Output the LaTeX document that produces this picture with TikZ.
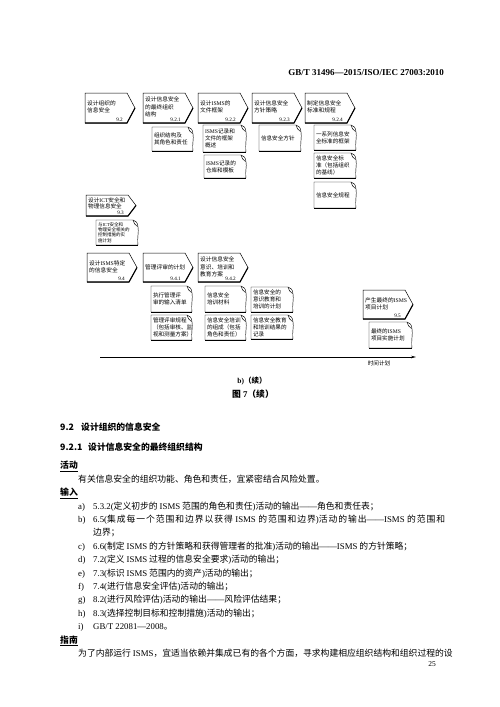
\documentclass[tikz,border=0pt]{standalone}
\usepackage{fontspec}
\setmainfont{Noto Sans CJK SC}
\newfontfamily\serifhdr{Liberation Serif}
\usetikzlibrary{arrows.meta}
\XeTeXlinebreaklocale "zh"
\XeTeXlinebreakskip = 0pt plus 2pt
\newcommand\lat[1]{{\serifhdr #1}}
\tikzset{
 boxline/.style={draw=black, line width=0.5pt, line join=miter},
 shadowline/.style={draw=black, line width=1.1pt},
 docline/.style={draw=black, line width=0.45pt},
 docshadow/.style={draw=black, line width=0.9pt},
 boxtext/.style={font=\fontsize{5.7}{7.4}\selectfont, align=left, inner sep=0pt, anchor=west},
 numtext/.style={font=\fontsize{5.2}{6}\selectfont\serifhdr, inner sep=0pt, anchor=base east},
 doctext/.style={font=\fontsize{5.6}{7}\selectfont, align=left, inner sep=0pt, anchor=west},
 tinydoc/.style={font=\fontsize{4.5}{5.2}\selectfont, align=left, inner sep=0pt, anchor=west},
 body/.style={font=\fontsize{8.8}{13.4}\selectfont, inner sep=0pt, anchor=base west},
 head/.style={font=\fontsize{8.8}{13.4}\selectfont\bfseries, inner sep=0pt, anchor=base west},
 capt/.style={font=\bfseries\fontsize{8.8}{10}\selectfont, inner sep=0pt, anchor=base},
}
% activity box outline: x, y, height
\newcommand\actshape[3]{%
 \draw[boxline] (#1,#2) -- ++(42,0) -- ++(8,{#3/2}) -- ++(-8,{#3/2}) -- ++(-42,0) -- cycle;
 \draw[shadowline] (#1,{#2+#3}) -- ++(42,0) -- ++(8,{-#3/2});
}
% activity box: name, x, y, height, text, number
\newcommand\mkact[6]{%
 \actshape{#2}{#3}{#4}
 \node[boxtext] (#1) at ({#2+2},{#3+14}) {#5};
 \node[numtext] (#1n) at ({#2+38},{#3+#4-2}) {#6};
}
% document box: name, x1, y1, x2, y2, style, text
\newcommand\mkdoc[7]{%
 \draw[docline] (#2,#3) -- ({#4-5},#3) .. controls ({#4-2},{#3+0.3}) and ({#4-0.3},{#3+3}) .. (#4,{#3+7}) .. controls ({#4+1},{#3+12}) and ({#4-1},{#5-8}) .. (#4,#5) -- (#2,#5) -- cycle;
 \draw[docline] ({#4-5},#3) .. controls ({#4-4.5},{#3+3}) and ({#4-3},{#3+5}) .. ({#4-0.5},{#3+6.5});
 \draw[docshadow] (#2,#5) -- (#4,#5);
 \node[#6] (#1) at ({#2+1.8},{(#3+#5)/2}) {#7};
}
\begin{document}
\begin{tikzpicture}[x=1pt,y=-1pt]
\useasboundingbox (0,0) rectangle (500,707);
\fill[white] (0,0) rectangle (500,707);

\node[anchor=base east, inner sep=0pt, font=\serifhdr\bfseries\fontsize{9}{10}\selectfont] (hdr) at (444,75.5) {GB/T 31496—2015/ISO/IEC 27003:2010};

% row 1
\mkact{b92}{85}{93}{30}{设计组织的\\信息安全}{9.2}
\mkact{b921}{143}{93}{30}{设计信息安全\\的最终组织\\结构}{9.2.1}
\mkact{b922}{198}{93}{30}{设计\lat{ISMS}的\\文件框架}{9.2.2}
\mkact{b923}{252}{93}{30}{设计信息安全\\方针策略}{9.2.3}
\mkact{b924}{305}{93}{30}{制定信息安全\\标准和规程}{9.2.4}

\mkdoc{d1}{152}{127}{193}{151}{doctext}{组织结构及\\其角色和责任}
\mkdoc{d2}{203}{125}{246}{152}{doctext}{\lat{ISMS}记录和\\文件的框架\\概述}
\mkdoc{d3}{204}{155}{246}{178}{doctext}{\lat{ISMS}记录的\\仓库和模板}
\mkdoc{d4}{259}{125}{301}{151}{doctext}{信息安全方针}
\mkdoc{d5}{314}{125}{356}{150}{doctext}{一系列信息安\\全标准的框架}
\mkdoc{d6}{314}{153}{356}{178}{doctext}{信息安全标\\准（包括组织\\的基线）}
\mkdoc{d7}{314}{182}{356}{208}{doctext}{信息安全规程}

% row 2
\actshape{86}{195}{21}
\node[boxtext, font=\fontsize{5.6}{6.2}\selectfont] (b93) at (88,203) {设计\lat{ICT}安全和\\物理信息安全};
\node[numtext] (b93n) at (124,214) {9.3};
\mkdoc{d8}{96}{220}{138}{245}{tinydoc}{与\lat{ICT}安全和\\物理安全相关的\\控制措施的实\\施计划}

% row 3
\mkact{b94}{87}{253}{29}{设计\lat{ISMS}特定\\的信息安全}{9.4}
\mkact{b941}{143}{253}{29}{管理评审的计划}{9.4.1}
\mkact{b942}{198}{253}{29}{设计信息安全\\意识、培训和\\教育方案}{9.4.2}

\mkdoc{d9}{151}{286}{192}{312}{doctext}{执行管理评\\审的输入清单}
\mkdoc{d10}{151}{315}{192}{340}{doctext}{管理评审规程\\（包括审核、监\\视和测量方案）}
\mkdoc{d11}{205}{286}{246}{312}{doctext}{信息安全\\培训材料}
\mkdoc{d12}{205}{315}{246}{340}{doctext}{信息安全培训\\的组成（包括\\角色和责任）}
\mkdoc{d13}{251}{287}{293}{312}{doctext}{信息安全的\\意识教育和\\培训的计划}
\mkdoc{d14}{251}{315}{293}{339}{doctext}{信息安全教育\\和培训结果的\\记录}

\mkact{b95}{363}{290}{29}{产生最终的\lat{ISMS}\\项目计划}{9.5}
\mkdoc{d15}{369}{322}{412}{348}{doctext}{最终的\lat{ISMS}\\项目实施计划}

% time line
\coordinate (tl0) at (100,357);
\coordinate (tl1) at (416,357);
\draw[line width=0.8pt, -{Stealth[length=5pt,width=2.6pt]}] (tl0) -- (tl1);
\node[font=\fontsize{5.6}{6}\selectfont, inner sep=0pt] (tlt) at (379,363.5) {时间计划};

% captions
\node[capt, font=\bfseries\fontsize{7.5}{9}\selectfont] (capb) at (252,383.5) {\lat{b)}（续）};
\node[capt] (cap7) at (253,397) {图 \lat{7}（续）};

% body text
\node[head] (h92a) at (60,430.3) {9.2};
\node[head] (h92b) at (81,430.3) {设计组织的信息安全};
\node[head] (h921a) at (60,450.3) {9.2.1};
\node[head] (h921b) at (88,450.3) {设计信息安全的最终组织结构};
\node[head] (act) at (60,468.9) {\underline{活动}};
\node[body] (actt) at (78,482.3) {有关信息安全的组织功能、角色和责任，宜紧密结合风险处置。};
\node[head] (inp) at (60,495.7) {\underline{输入}};

\node[body] (la) at (78,509.1) {\lat{a)}};
\node[body] (ta) at (93,509.1) {\lat{5.3.2(}定义初步的 \lat{ISMS} 范围的角色和责任\lat{)}活动的输出\lat{——}角色和责任表；};
\node[body] (lb) at (78,522.5) {\lat{b)}};
\node[body] (tb) at (93,522.5) {\parbox[t]{352pt}{\lat{6.5(}集成每一个范围和边界以获得 \lat{ISMS} 的范围和边界\lat{)}活动的输出\lat{——}\lat{ISMS} 的范围和\linebreak 边界；}};
\node[body] (lc) at (78,549.3) {\lat{c)}};
\node[body] (tc) at (93,549.3) {\lat{6.6(}制定 \lat{ISMS} 的方针策略和获得管理者的批准\lat{)}活动的输出\lat{——}\lat{ISMS} 的方针策略；};
\node[body] (ld) at (78,562.7) {\lat{d)}};
\node[body] (td) at (93,562.7) {\lat{7.2(}定义 \lat{ISMS} 过程的信息安全要求\lat{)}活动的输出；};
\node[body] (le) at (78,576.1) {\lat{e)}};
\node[body] (te) at (93,576.1) {\lat{7.3(}标识 \lat{ISMS} 范围内的资产\lat{)}活动的输出；};
\node[body] (lf) at (78,589.5) {\lat{f)}};
\node[body] (tf) at (93,589.5) {\lat{7.4(}进行信息安全评估\lat{)}活动的输出；};
\node[body] (lg) at (78,602.9) {\lat{g)}};
\node[body] (tgg) at (93,602.9) {\lat{8.2(}进行风险评估\lat{)}活动的输出\lat{——}风险评估结果；};
\node[body] (lh) at (78,616.3) {\lat{h)}};
\node[body] (th) at (93,616.3) {\lat{8.3(}选择控制目标和控制措施\lat{)}活动的输出；};
\node[body] (li) at (78,629.7) {\lat{i)}};
\node[body] (ti) at (93,629.7) {\lat{GB/T 22081—2008}。};
\node[head] (gd) at (60,643.1) {\underline{指南}};
\node[body] (tg) at (78,656.5) {为了内部运行 \lat{ISMS}，宜适当依赖并集成已有的各个方面，寻求构建相应组织结构和组织过程的设};
\node[anchor=base east, inner sep=0pt, font=\serifhdr\fontsize{7.5}{8}\selectfont] (pg) at (436,666.5) {25};
\end{tikzpicture}
\end{document}
